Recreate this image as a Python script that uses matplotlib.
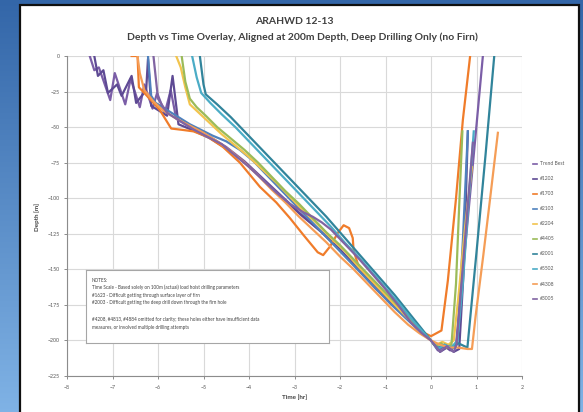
import numpy as np
import matplotlib
matplotlib.use("Agg")
import matplotlib.pyplot as plt
from matplotlib.patches import Rectangle
from matplotlib.lines import Line2D

plt.rcParams['font.family'] = ['Lato', 'DejaVu Sans']

# hole runs, time [hr] relative to reaching 200 m, depth [m]
labels = ["Trend Best", "#1202", "#1703", "#2103", "#2204",
          "#4405", "#2001", "#5502", "#4308", "#3005"]
colors = ["#7B5EA7", "#5E4A94", "#F07C2A", "#4F81BD", "#F2C44E",
          "#9BBB59", "#31849B", "#4BACC6", "#F59D56", "#8064A2"]

time_1 = [-7.50, -7.40, -7.30, -7.05, -6.95, -6.72, -6.60, -6.40, -6.30, -6.12, -6.02, -5.85, -5.72,
          -5.60, -5.30, -4.90, -4.50, -4.10, -3.70, -3.30, -2.90, -2.50, -2.10, -1.70, -1.30,
          -0.90, -0.50, -0.20, 0.00, 0.15, 0.30, 0.42, 0.55, 0.75, 0.95, 1.14]
depth_1 = [0, -10, -8, -31, -12, -34, -16, -36, -20, -37, -26, -40, -24,
           -44, -50, -56, -64, -74, -86, -98, -110, -121, -133, -146, -159,
           -172, -185, -194, -200, -207, -204, -207, -203, -135, -66, 0]

time_2 = [-7.40, -7.32, -7.20, -7.10, -6.90, -6.80, -6.58, -6.48, -6.26, -6.22, -6.15, -6.00, -5.80,
          -5.68, -5.55, -5.25, -4.85, -4.45, -4.05, -3.65, -3.25, -2.85, -2.40, -2.00, -1.60, -1.20,
          -0.80, -0.40, -0.15, 0.00, 0.20, 0.35, 0.50, 0.62, 0.72, 0.81]
depth_2 = [0, -14, -10, -26, -20, -28, -14, -33, -24, -2, -35, -38, -42,
           -14, -48, -52, -58, -66, -76, -88, -100, -112, -124, -136, -150, -164,
           -176, -188, -196, -200, -208, -205, -208, -206, -150, -53]

time_3 = [-6.58, -6.45, -6.42, -6.30, -6.10, -5.96, -5.71, -5.45, -5.22, -4.90, -4.57, -4.20, -3.76,
          -3.40, -3.10, -2.80, -2.49, -2.37, -2.22, -2.04, -1.92, -1.80, -1.72, -1.70, -1.60, -1.30,
          -1.00, -0.70, -0.40, -0.20, 0.00, 0.23, 0.37, 0.55, 0.70, 0.86]
depth_3 = [0, 0, -22, -26, -33, -38, -51, -52, -53, -57, -64, -75, -92,
           -103, -114, -126, -138, -140, -134, -124, -119, -121, -128, -137, -147, -158,
           -168, -178, -188, -194, -197, -193, -158, -100, -45, 0]

time_4 = [-6.22, -6.15, -6.05, -5.90, -5.70, -5.50, -5.30, -5.05, -4.80, -4.50, -4.20, -3.90, -3.60,
          -3.30, -3.00, -2.70, -2.40, -2.10, -1.80, -1.50, -1.20, -0.90, -0.60, -0.30, 0.00, 0.15,
          0.30, 0.45, 0.58, 0.70, 0.81]
depth_4 = [0, -28, -33, -36, -40, -44, -48, -52, -56, -60, -66, -74, -84,
           -94, -104, -114, -124, -134, -144, -154, -164, -174, -183, -192, -200, -205,
           -203, -205, -201, -130, -53]

time_5 = [-5.60, -5.50, -5.40, -5.30, -5.10, -4.90, -4.60, -4.30, -4.00, -3.70, -3.40, -3.10, -2.80,
          -2.50, -2.20, -1.90, -1.60, -1.30, -1.00, -0.70, -0.40, -0.15, 0.00, 0.12, 0.25, 0.38,
          0.50, 0.60, 0.75, 0.90]
depth_5 = [0, -8, -22, -34, -40, -46, -55, -63, -71, -80, -89, -99, -109,
           -118, -128, -137, -148, -158, -168, -178, -188, -195, -200, -203, -201, -203,
           -200, -170, -120, -78]

time_6 = [-5.48, -5.40, -5.30, -5.15, -4.95, -4.70, -4.40, -4.10, -3.80, -3.50, -3.20, -2.90, -2.60,
          -2.30, -2.00, -1.70, -1.40, -1.10, -0.80, -0.50, -0.25, 0.00, 0.10, 0.22, 0.34, 0.45,
          0.55, 0.62, 0.69]
depth_6 = [0, -18, -30, -36, -42, -50, -58, -66, -75, -85, -95, -104, -114,
           -124, -133, -143, -153, -163, -173, -183, -192, -200, -204, -202, -205, -203,
           -160, -105, -53]

time_7 = [-5.08, -5.00, -4.95, -4.70, -4.40, -4.10, -3.80, -3.50, -3.20, -2.90, -2.60, -2.30, -2.00,
          -1.70, -1.40, -1.10, -0.80, -0.50, -0.25, 0.00, 0.15, 0.30, 0.45, 0.60, 0.80, 1.00,
          1.20, 1.39]
depth_7 = [0, -20, -27, -34, -43, -53, -63, -73, -83, -93, -103, -113, -124,
           -135, -146, -157, -168, -180, -190, -200, -206, -203, -206, -202, -205, -138,
           -69, 0]

time_8 = [-5.25, -5.15, -5.05, -4.85, -4.60, -4.30, -4.00, -3.70, -3.40, -3.10, -2.80, -2.50, -2.20,
          -1.90, -1.60, -1.30, -1.00, -0.70, -0.40, -0.15, 0.00, 0.15, 0.30, 0.45, 0.58, 0.70,
          0.82, 0.94]
depth_8 = [0, -15, -26, -33, -41, -50, -60, -70, -80, -90, -100, -110, -120,
           -131, -141, -152, -163, -174, -186, -195, -200, -206, -203, -205, -200, -160,
           -105, -53]

time_9 = [-6.45, -6.40, -6.30, -6.10, -5.90, -5.60, -5.30, -5.00, -4.70, -4.40, -4.10, -3.80, -3.50,
          -3.20, -2.90, -2.60, -2.30, -2.00, -1.70, -1.40, -1.10, -0.80, -0.50, -0.25, 0.00, 0.20,
          0.40, 0.60, 0.80, 0.90, 0.98, 1.15, 1.30, 1.47]
depth_9 = [0, -12, -24, -32, -38, -44, -49, -54, -60, -67, -75, -84, -94,
           -103, -113, -122, -131, -141, -150, -160, -170, -180, -189, -195, -200, -203,
           -205, -205, -206, -206, -183, -140, -100, -54]

time_10 = [-6.10, -6.00, -5.80, -5.50, -5.20, -4.90, -4.60, -4.30, -4.00, -3.70, -3.40, -3.10, -2.80,
           -2.60, -2.40, -2.20, -1.90, -1.60, -1.30, -1.00, -0.70, -0.45, -0.20, 0.00, 0.20, 0.35,
           0.50, 0.56, 0.72, 0.92]
depth_10 = [0, -30, -40, -46, -52, -57, -62, -70, -78, -87, -96, -104, -110,
            -113, -117, -122, -132, -142, -153, -164, -176, -187, -195, -200, -208, -204,
            -208, -203, -140, -61]

times = [time_1, time_2, time_3, time_4, time_5, time_6, time_7, time_8, time_9, time_10]
depths = [depth_1, depth_2, depth_3, depth_4, depth_5, depth_6, depth_7, depth_8, depth_9, depth_10]

W, H = 583, 412
fig = plt.figure(figsize=(W / 100, H / 100), dpi=100)

# slide background: blue sky gradient behind the chart panel
bg = fig.add_axes([0, 0, 1, 1])
grad = np.linspace(0, 1, 256).reshape(-1, 1)
top = np.array([0.20, 0.40, 0.66])
bot = np.array([0.50, 0.70, 0.90])
img = top + (bot - top) * grad[:, :, None] * np.ones((1, 2, 1))
bg.imshow(img, aspect='auto', extent=[0, 1, 0, 1], origin='upper')
bg.add_patch(Rectangle((20 / W, -0.01), (579 - 20) / W, (412 - 5) / H + 0.01,
                       transform=bg.transAxes, facecolor='white', edgecolor='#101010', lw=1.6))
bg.set_xlim(0, 1)
bg.set_ylim(0, 1)
bg.axis('off')

fig.text(294.5 / W, 1 - 22 / H, "ARAHWD 12-13", ha='center', va='center',
         fontsize=7.5, fontweight='bold', color='#404040')
fig.text(302 / W, 1 - 37 / H,
         "Depth vs Time Overlay, Aligned at 200m Depth, Deep Drilling Only (no Firn)",
         ha='center', va='center', fontsize=7.5, fontweight='bold', color='#404040')

ax = fig.add_axes([67 / W, 1 - 376 / H, 455 / W, 320 / H])
for t, d, c, lab in zip(times, depths, colors, labels):
    ax.plot(t, d, color=c, lw=1.6, label=lab, solid_joinstyle='round')

ax.set_xlim(-8, 2)
ax.set_ylim(-225, 0)
ax.set_xticks(range(-8, 3))
ax.set_yticks(range(0, -226, -25))
ax.grid(True, color='#D9D9D9', lw=0.8)
ax.set_axisbelow(True)
for s in ['top', 'right']:
    ax.spines[s].set_visible(False)
for s in ['left', 'bottom']:
    ax.spines[s].set_color('#8C8C8C')
    ax.spines[s].set_linewidth(0.8)
ax.tick_params(direction='out', length=2.5, width=0.7, color='#8C8C8C',
               labelsize=3.8, labelcolor='#595959')
ax.tick_params(axis='x', pad=4)
ax.tick_params(axis='y', pad=2.5)
ax.set_xlabel("Time [hr]", fontsize=4.5, fontweight='bold', color='#404040', labelpad=3)
fig.text(37 / W, 1 - 217 / H, "Depth [m]", rotation=90, ha='center', va='center',
         fontsize=4.5, fontweight='bold', color='#404040')

# notes box
box = fig.add_axes([86 / W, 1 - 343 / H, 243 / W, 73 / H])
box.set_facecolor('white')
box.set_xticks([])
box.set_yticks([])
for s in box.spines.values():
    s.set_color('#A6A6A6')
    s.set_linewidth(0.8)
notes = ["NOTES:",
         "Time Scale - Based solely on 100m (actual) load hoist drilling parameters",
         "#1623 - Difficult getting through surface layer of firn",
         "#2003 - Difficult getting the deep drill down through the firn hole",
         "#4208, #4813, #4884 omitted for clarity; these holes either have insufficient data",
         "measures, or involved multiple drilling attempts"]
note_y = [0.86, 0.76, 0.65, 0.55, 0.32, 0.21]
for txt, yy in zip(notes, note_y):
    box.text(0.025, yy, txt, transform=box.transAxes, fontsize=3.3,
             color='#404040', va='center', ha='left')

handles = [Line2D([0], [0], color=c, lw=1.2) for c in colors]
fig.legend(handles, labels, loc='upper left', bbox_to_anchor=(528 / W, 1 - 157 / H),
           frameon=False, fontsize=3.6, labelspacing=2.0, handlelength=0.8,
           handletextpad=0.6, labelcolor='#595959')

fig.savefig("out.png", dpi=100)
